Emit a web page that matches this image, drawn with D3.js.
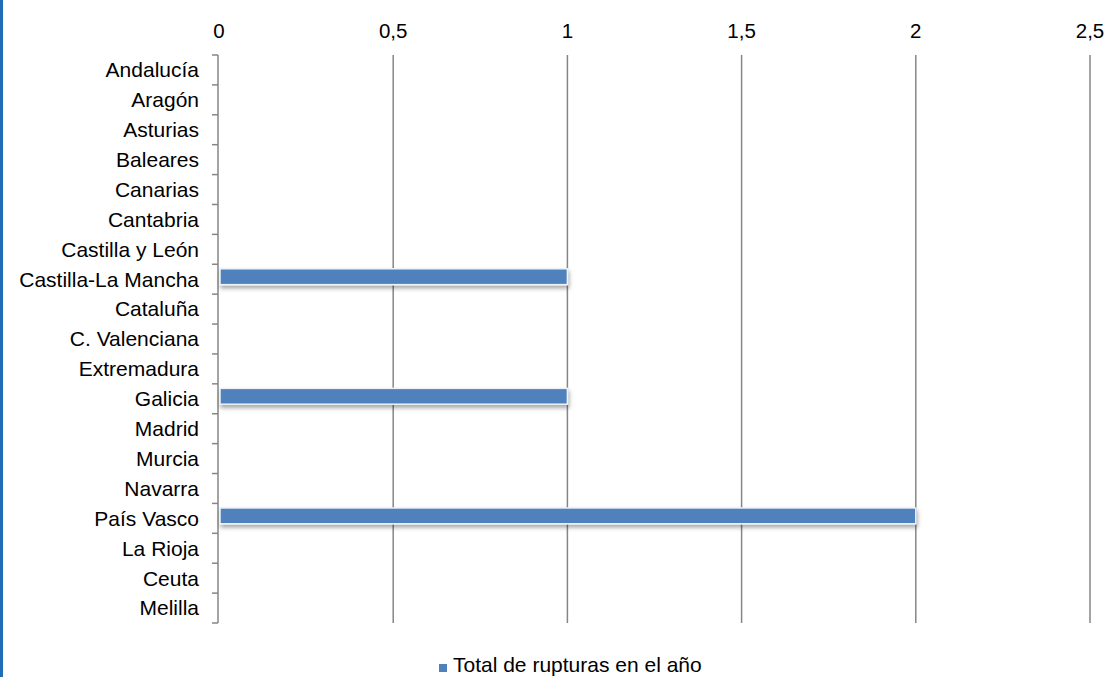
<!DOCTYPE html>
<html><head><meta charset="utf-8">
<script src="https://cdn.jsdelivr.net/npm/d3@7"></script>
<style>body{margin:0;background:#fff;}svg{display:block;}text{font-family:"Liberation Sans",Arial,sans-serif;}</style>
</head><body>
<script>
const categories = ["Andalucía","Aragón","Asturias","Baleares","Canarias","Cantabria","Castilla y León","Castilla-La Mancha","Cataluña","C. Valenciana","Extremadura","Galicia","Madrid","Murcia","Navarra","País Vasco","La Rioja","Ceuta","Melilla"];
const values = [0,0,0,0,0,0,0,1,0,0,0,1,0,0,0,2,0,0,0];
const tickValues = [0,0.5,1,1.5,2,2.5];
const tickLabels = ["0","0,5","1","1,5","2","2,5"];
const seriesName = "Total de rupturas en el año";

const W = 1113, H = 677;
const svg = d3.select("body").append("svg").attr("width", W).attr("height", H);
const defs = svg.append("defs");
const f = defs.append("filter").attr("id","sh").attr("x","-5%").attr("y","-50%").attr("width","110%").attr("height","250%");
f.append("feDropShadow").attr("dx",1).attr("dy",3).attr("stdDeviation",2).attr("flood-color","#000").attr("flood-opacity",0.35);

// left blue border
svg.append("rect").attr("x",0).attr("y",0).attr("width",3).attr("height",H).attr("fill","#1f6db2");

const x = d3.scaleLinear().domain([0,2.5]).range([219,1090]);
const y = d3.scaleBand().domain(categories).range([52.5,620.5]).paddingInner(0.47).paddingOuter(0.235);
const yb = d3.scaleBand().domain(categories).range([55,623]);

// gridlines
svg.append("g").selectAll("line").data(tickValues.slice(1)).join("line")
  .attr("x1",d=>x(d)).attr("x2",d=>x(d)).attr("y1",55).attr("y2",623)
  .attr("stroke","#868686").attr("stroke-width",1.5);

// top tick labels
svg.append("g").selectAll("text").data(tickValues).join("text")
  .attr("x",d=>x(d)).attr("y",38).attr("text-anchor","middle")
  .attr("font-size",20.5).attr("fill","#000").text((d,i)=>tickLabels[i]);

// left axis with ticks at band boundaries
const ax = svg.append("g");
ax.append("line").attr("x1",218).attr("x2",218).attr("y1",55).attr("y2",623).attr("stroke","#868686").attr("stroke-width",1.5);
const bounds = categories.map(c=>yb(c)).concat([623]);
ax.selectAll("line.t").data(bounds).join("line").attr("class","t")
  .attr("x1",212).attr("x2",218).attr("y1",d=>d).attr("y2",d=>d)
  .attr("stroke","#868686").attr("stroke-width",1.5);
ax.selectAll("text").data(categories).join("text")
  .attr("x",199).attr("y",c=>yb(c)+yb.bandwidth()/2).attr("dy","0.35em")
  .attr("text-anchor","end").attr("font-size",21).attr("fill","#000").text(c=>c);

// bars
svg.append("g").selectAll("rect").data(categories.map((c,i)=>({c,v:values[i]})).filter(d=>d.v>0)).join("rect")
  .attr("x",x(0)+1).attr("y",d=>y(d.c)).attr("width",d=>x(d.v)-x(0)-1).attr("height",y.bandwidth())
  .attr("fill","#4f81bd").attr("stroke","#eef2f8").attr("stroke-width",1.5).attr("filter","url(#sh)");

// legend
const lg = svg.append("g");
lg.append("rect").attr("x",439).attr("y",664).attr("width",8).attr("height",8).attr("fill","#4f81bd");
lg.append("text").attr("x",453).attr("y",671.5).attr("font-size",21).attr("fill","#000").text(seriesName);
</script>
</body></html>
